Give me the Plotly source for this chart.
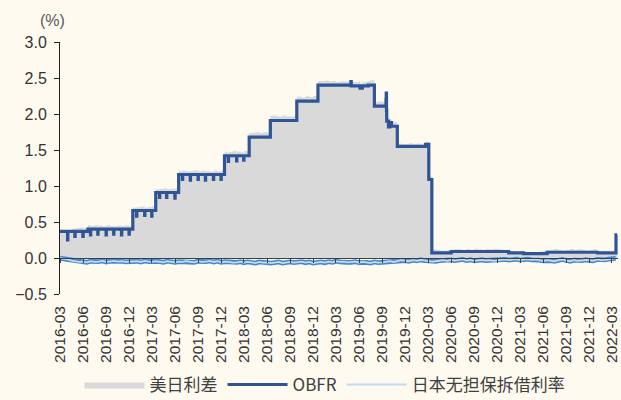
import pandas as pd
import plotly.graph_objects as go

# OBFR policy-driven levels (%), held until the next change
obfr_step_dates = [
    "2016-03-01", "2016-06-20", "2016-12-15", "2017-03-16", "2017-06-15",
    "2017-12-14", "2018-03-22", "2018-06-14", "2018-09-27", "2018-12-20",
    "2019-04-30", "2019-05-01", "2019-06-05", "2019-06-14", "2019-07-08",
    "2019-08-01", "2019-09-16", "2019-09-17", "2019-09-18", "2019-09-19",
    "2019-09-26", "2019-10-01", "2019-10-08", "2019-10-31", "2020-02-20",
    "2020-03-04", "2020-03-16", "2020-06-01", "2021-01-15", "2021-03-15",
    "2021-06-17", "2022-01-03", "2022-03-17",
]
obfr_step_vals = [
    0.37, 0.40, 0.66, 0.91, 1.16,
    1.42, 1.68, 1.91, 2.18, 2.40,
    2.45, 2.39, 2.36, 2.39, 2.40,
    2.11, 2.20, 2.29, 2.05, 1.90,
    1.82, 1.88, 1.83, 1.55, 1.58,
    1.09, 0.07, 0.09, 0.07, 0.06,
    0.08, 0.07, 0.32,
]

# Month-end dips in OBFR (depth below the prevailing level, %)
dip_dates = [
    "2016-03-31", "2016-04-29", "2016-05-31", "2016-06-30", "2016-07-29",
    "2016-08-31", "2016-09-30", "2016-10-31", "2016-11-30", "2016-12-30",
    "2017-01-31", "2017-02-28", "2017-03-31", "2017-04-28", "2017-05-31",
    "2017-06-30", "2017-07-31", "2017-08-31", "2017-09-29", "2017-10-31",
    "2017-11-30", "2017-12-29", "2018-01-31", "2018-02-28",
]
dip_depths = [
    0.12, 0.07, 0.07, 0.08, 0.07,
    0.08, 0.07, 0.08, 0.07, 0.08,
    0.07, 0.08, 0.07, 0.07, 0.08,
    0.07, 0.08, 0.07, 0.08, 0.07,
    0.07, 0.08, 0.07, 0.06,
]

# Japan uncollateralized overnight call rate (%), 1st and 16th of each month
jp_vals = [
    # 2016 Mar-Dec
    -0.003, -0.010, -0.020, -0.035, -0.045, -0.055, -0.050, -0.060, -0.045, -0.055,
    -0.050, -0.040, -0.055, -0.045, -0.040, -0.050, -0.045, -0.055, -0.050, -0.040,
    # 2017
    -0.045, -0.055, -0.040, -0.050, -0.055, -0.045, -0.050, -0.060, -0.045, -0.055,
    -0.060, -0.050, -0.055, -0.045, -0.050, -0.060, -0.045, -0.055, -0.050, -0.040,
    -0.055, -0.045, -0.060, -0.050,
    # 2018
    -0.055, -0.065, -0.060, -0.050, -0.065, -0.055, -0.060, -0.070, -0.055, -0.065,
    -0.060, -0.070, -0.065, -0.055, -0.070, -0.060, -0.055, -0.065, -0.060, -0.050,
    -0.065, -0.055, -0.070, -0.060,
    # 2019
    -0.055, -0.065, -0.050, -0.060, -0.045, -0.055, -0.050, -0.060, -0.060, -0.050,
    -0.065, -0.055, -0.060, -0.070, -0.055, -0.065, -0.060, -0.050, -0.045, -0.055,
    -0.040, -0.030, -0.035, -0.045,
    # 2020
    -0.030, -0.040, -0.025, -0.035, -0.040, -0.050, -0.045, -0.035, -0.030, -0.040,
    -0.025, -0.035, -0.030, -0.020, -0.035, -0.025, -0.040, -0.030, -0.025, -0.035,
    -0.030, -0.040, -0.035, -0.025,
    # 2021
    -0.020, -0.030, -0.025, -0.015, -0.030, -0.020, -0.015, -0.025, -0.020, -0.030,
    -0.040, -0.030, -0.035, -0.045, -0.030, -0.020, -0.035, -0.045, -0.030, -0.040,
    -0.035, -0.025, -0.030, -0.040,
    # 2022 Jan-Mar
    -0.020, -0.030, -0.025, -0.015, -0.010, -0.005,
]
jp_dates = pd.date_range("2016-03-01", periods=73, freq="MS")
jp_dates = sorted(list(jp_dates) + [d + pd.Timedelta(days=15) for d in jp_dates])[:len(jp_vals)]

# Japanese market closure (Golden Week 2019): no spread observations
gap_start, gap_end = "2019-04-27", "2019-05-06"

tick_labels = [
    "2016-03", "2016-06", "2016-09", "2016-12", "2017-03", "2017-06", "2017-09",
    "2017-12", "2018-03", "2018-06", "2018-09", "2018-12", "2019-03", "2019-06",
    "2019-09", "2019-12", "2020-03", "2020-06", "2020-09", "2020-12", "2021-03",
    "2021-06", "2021-09", "2021-12", "2022-03",
]
tick_vals = [lbl + "-01" for lbl in tick_labels]

# ---- daily series ----
days = pd.date_range("2016-03-01", "2022-03-22", freq="D")
obfr = pd.Series(obfr_step_vals, index=pd.to_datetime(obfr_step_dates)).reindex(days, method="ffill")
for d, depth in zip(pd.to_datetime(dip_dates), dip_depths):
    obfr[d] = round(obfr[d] - depth, 3)

jp = pd.Series(jp_vals, index=pd.to_datetime(jp_dates)).reindex(days, method="ffill")
spread = (obfr - jp).round(3)
spread[(spread.index >= gap_start) & (spread.index <= gap_end)] = None

x_range = ["2016-03-01", "2022-03-25"]

fig = go.Figure()
fig.add_trace(go.Scatter(
    x=days, y=spread, name="美日利差", mode="lines", line=dict(width=0, color="#d9d9d9", shape="hv"),
    fill="tozeroy", fillcolor="#d9d9d9", connectgaps=False, hoverinfo="skip",
))
fig.add_trace(go.Scatter(
    x=days, y=obfr, name="OBFR", mode="lines",
    line=dict(color="#2f5597", width=3.2, shape="hv"),
))
fig.add_trace(go.Scatter(
    x=jp_dates, y=jp_vals, name="日本无担保拆借利率", mode="lines", xaxis="x2",
    line=dict(color="#4287d0", width=4.8), showlegend=False,
))
fig.add_trace(go.Scatter(
    x=jp_dates, y=jp_vals, name="日本无担保拆借利率", mode="lines", xaxis="x2",
    line=dict(color="#c3daf1", width=1.8),
))

tick_font = dict(family="Liberation Sans, Noto Sans CJK SC", size=15.5, color="#333333")

fig.update_layout(
    width=621, height=400,
    margin=dict(l=60, r=3, t=42, b=106, autoexpand=False),
    paper_bgcolor="#fefaf0", plot_bgcolor="#fefaf0",
    showlegend=True,
    legend=dict(
        orientation="h", x=0.475, xanchor="center", y=-0.361, yanchor="middle",
        font=dict(family="Noto Sans CJK SC", size=17, color="#404040"),
        itemwidth=60, bgcolor="rgba(0,0,0,0)",
    ),
    xaxis=dict(
        type="date", range=x_range, tickvals=tick_vals, ticktext=tick_labels,
        tickangle=-90, ticks="", showline=False, showgrid=False, zeroline=False,
        tickfont=tick_font, ticklabelstandoff=8, automargin=False,
    ),
    xaxis2=dict(
        type="date", range=x_range, overlaying="x", anchor="free", position=0.5 / 3.5,
        tickvals=tick_vals, showticklabels=False, ticks="outside", ticklen=4,
        tickcolor="#404040", showline=True, linecolor="#404040", linewidth=1,
        showgrid=False, zeroline=False,
    ),
    yaxis=dict(
        range=[-0.5, 3.0], dtick=0.5, tick0=0, tickformat=".1f",
        ticks="outside", ticklen=5, tickcolor="#222", showline=True,
        linecolor="#222", linewidth=1, showgrid=False, zeroline=False,
        tickfont=dict(family="Liberation Sans, Noto Sans CJK SC", size=16, color="#333333"),
        ticklabelstandoff=4, automargin=False,
    ),
    annotations=[dict(
        text="(%)", xref="paper", yref="paper", showarrow=False,
        x=(52 - 60) / 558, y=1 + (42 - 20) / 252, xanchor="center", yanchor="middle",
        font=dict(family="Liberation Sans", size=16, color="#595959"),
    )],
)

fig.write_html("out.html")
